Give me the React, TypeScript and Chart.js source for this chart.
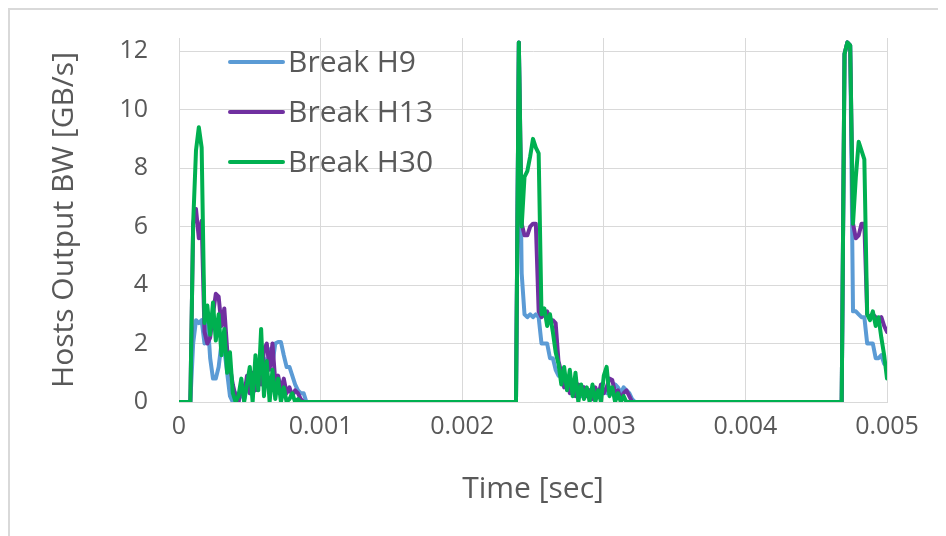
import React, { useEffect, useRef } from "react";
import { Chart, registerables } from "chart.js";

Chart.register(...registerables);

const SERIES_LABELS = ["Break H9", "Break H13", "Break H30"];
const SERIES_COLORS = ["#5B9BD5", "#7030A0", "#00B050"];

const SAMPLE_STEP = 0.00002;
const BURST1_START = 0.00008;
const BURST2_START = 0.00238;
const BURST3_START = 0.00468;

const X_TICKS = [0, 0.001, 0.002, 0.003, 0.004, 0.005];
const X_TICK_LABELS = ["0", "0.001", "0.002", "0.003", "0.004", "0.005"];
const Y_TICKS = [0, 2, 4, 6, 8, 10, 12];
const Y_TICK_LABELS = ["0", "2", "4", "6", "8", "10", "12"];

// Break H9
const H9_B1 = [0, 2.0, 2.8, 2.7, 2.8, 2.0, 3.0, 1.5, 0.8, 0.8, 1.2, 2.0, 1.8, 1.0, 0.2, 0, 0.3, 0, 0.4, 0.1, 0.6, 0.3, 0.9, 0.4, 1.2, 0.8, 1.5, 1.1, 1.8, 1.3, 2.0, 2.05, 2.05, 1.6, 1.2, 1.2, 0.9, 0.6, 0.4, 0.3, 0.3, 0, 0];
const H9_B2 = [0, 12.3, 4.4, 3.0, 2.9, 3.0, 2.9, 3.0, 2.9, 2.0, 2.0, 2.0, 1.5, 1.5, 1.1, 0.9, 1.0, 0.6, 0.7, 0.4, 0.6, 0.3, 0.5, 0.2, 0.5, 0.3, 0.4, 0.2, 0.4, 0.3, 0.5, 0.4, 0.3, 0.5, 0.4, 0.6, 0.5, 0.3, 0.5, 0.4, 0.3, 0.1, 0];
const H9_B3 = [0, 11.9, 12.3, 12.2, 3.1, 3.1, 3.0, 2.9, 2.9, 2.0, 2.0, 2.0, 1.5, 1.5, 1.6, 1.3, 1.3];

// Break H13
const H13_B1 = [0, 6.1, 6.6, 5.6, 6.2, 2.4, 2.0, 2.2, 3.0, 3.7, 3.6, 2.6, 3.2, 1.8, 1.2, 0.6, 0.2, 0, 0.5, 0.2, 0.9, 0.3, 1.0, 0.4, 1.3, 0.6, 1.8, 2.0, 1.1, 2.0, 0.7, 0.9, 0.4, 0.8, 0.3, 0.5, 0.2, 0.4, 0.3, 0.1, 0, 0, 0];
const H13_B2 = [0, 12.3, 6.1, 5.7, 5.7, 6.0, 6.1, 6.1, 3.1, 2.9, 3.0, 3.1, 2.8, 2.8, 2.7, 1.4, 1.0, 0.5, 0.8, 0.3, 0.7, 0.2, 0.6, 0.3, 0.5, 0.2, 0.4, 0.1, 0.5, 0.2, 0.6, 0.3, 0.5, 0.8, 0.75, 0.3, 0.4, 0.1, 0.3, 0.4, 0.2, 0, 0];
const H13_B3 = [0, 11.9, 12.3, 12.2, 6.1, 5.6, 5.7, 6.1, 6.1, 3.0, 2.9, 3.0, 2.9, 2.8, 2.9, 2.6, 2.4];

// Break H30
const H30_B1 = [0, 6.1, 8.6, 9.4, 8.7, 2.7, 3.3, 2.3, 3.4, 2.1, 3.0, 1.6, 2.5, 1.0, 1.7, 0.3, 0, 0.2, 0.8, 0, 0.6, 1.2, 0, 1.6, 0.4, 2.5, 0.2, 1.4, 0, 1.1, 0.1, 0.8, 0, 0.5, 0, 0.1, 0.3, 0, 0.1, 0, 0, 0, 0];
const H30_B2 = [0, 12.3, 6.0, 7.7, 7.9, 8.4, 9.0, 8.7, 8.5, 3.0, 3.2, 2.6, 3.0, 2.4, 1.7, 1.3, 0.6, 1.2, 0.4, 1.1, 0.2, 1.0, 0, 0.6, 0.1, 0.5, 0, 0.6, 0, 0.4, 0, 0.9, 1.2, 0.2, 0.5, 0, 0.3, 0, 0.2, 0, 0, 0, 0];
const H30_B3 = [0, 11.9, 12.3, 12.2, 6.1, 7.7, 8.9, 8.6, 8.3, 3.0, 2.8, 3.1, 2.6, 2.9, 2.2, 1.6, 0.8];

const FONT = "'Open Sans', 'Noto Sans', sans-serif";
const TEXT_COLOR = "#595959";
const GRID_COLOR = "#d9d9d9";

function burstPoints(start: number, values: number[]) {
  return values.map((y, i) => ({ x: +(start + i * SAMPLE_STEP).toFixed(6), y }));
}

function series(b1: number[], b2: number[], b3: number[]) {
  return [
    { x: 0, y: 0 },
    ...burstPoints(BURST1_START, b1),
    ...burstPoints(BURST2_START, b2),
    ...burstPoints(BURST3_START, b3),
  ];
}

const legendPlugin = {
  id: "insideLegend",
  afterDraw(chart: any) {
    const ctx = chart.ctx;
    const area = chart.chartArea;
    ctx.save();
    ctx.font = `30px ${FONT}`;
    ctx.textBaseline = "middle";
    ctx.textAlign = "left";
    SERIES_LABELS.forEach((label, i) => {
      const y = area.top + 24 + i * 50;
      const x0 = area.left + 51;
      ctx.strokeStyle = SERIES_COLORS[i];
      ctx.lineWidth = 4;
      ctx.lineCap = "round";
      ctx.beginPath();
      ctx.moveTo(x0, y);
      ctx.lineTo(x0 + 53, y);
      ctx.stroke();
      ctx.fillStyle = TEXT_COLOR;
      ctx.fillText(label, x0 + 58, y + 1);
    });
    ctx.restore();
  },
};

export default function App() {
  const canvasRef = useRef<HTMLCanvasElement | null>(null);

  useEffect(() => {
    if (!canvasRef.current) return;
    const data = [series(H9_B1, H9_B2, H9_B3), series(H13_B1, H13_B2, H13_B3), series(H30_B1, H30_B2, H30_B3)];
    const chart = new Chart(canvasRef.current, {
      type: "line",
      data: {
        datasets: SERIES_LABELS.map((label, i) => ({
          label,
          data: data[i],
          borderColor: SERIES_COLORS[i],
          backgroundColor: SERIES_COLORS[i],
          borderWidth: 4,
          pointRadius: 0,
          tension: 0,
          fill: false,
          order: 2 - i,
          borderJoinStyle: "round" as const,
          borderCapStyle: "round" as const,
        })),
      },
      options: {
        animation: false,
        responsive: false,
        parsing: false as any,
        normalized: true,
        layout: { padding: { left: 32, top: 28, right: 59, bottom: 25 } },
        plugins: { legend: { display: false }, tooltip: { enabled: false } },
        scales: {
          x: {
            type: "linear",
            min: 0,
            max: 0.005,
            afterBuildTicks: (s: any) => {
              s.ticks = X_TICKS.map((v) => ({ value: v }));
            },
            afterFit: (s: any) => {
              s.height = 109;
            },
            grid: { color: GRID_COLOR, drawTicks: false, lineWidth: 1 },
            border: { color: GRID_COLOR },
            ticks: {
              padding: 10,
              color: TEXT_COLOR,
              font: { family: FONT, size: 25 },
              maxRotation: 0,
              autoSkip: false,
              callback: (_v: any, i: number) => X_TICK_LABELS[i],
            },
            title: {
              display: true,
              text: "Time [sec]",
              color: TEXT_COLOR,
              font: { family: FONT, size: 30 },
              padding: { top: 4, bottom: 4 },
            },
          },
          y: {
            type: "linear",
            min: 0,
            max: 12.45,
            afterBuildTicks: (s: any) => {
              s.ticks = Y_TICKS.map((v) => ({ value: v }));
            },
            afterFit: (s: any) => {
              s.width = 137;
              s.paddingTop = 0;
              s.paddingBottom = 0;
            },
            grid: { color: GRID_COLOR, drawTicks: false, lineWidth: 1 },
            border: { color: GRID_COLOR },
            ticks: {
              padding: 31,
              color: TEXT_COLOR,
              font: { family: FONT, size: 25 },
              autoSkip: false,
              callback: (_v: any, i: number) => Y_TICK_LABELS[i],
            },
            title: {
              display: true,
              text: "Hosts Output BW [GB/s]",
              color: TEXT_COLOR,
              font: { family: FONT, size: 30 },
              padding: { top: 4, bottom: 4 },
            },
          },
        },
      },
      plugins: [legendPlugin],
    });
    return () => chart.destroy();
  }, []);

  return (
    <div
      style={{
        width: 936,
        height: 526,
        borderTop: "2px solid #d9d9d9",
        borderLeft: "2px solid #d9d9d9",
        background: "#fff",
      }}
    >
      <canvas ref={canvasRef} width={936} height={526} style={{ display: "block" }} />
    </div>
  );
}
